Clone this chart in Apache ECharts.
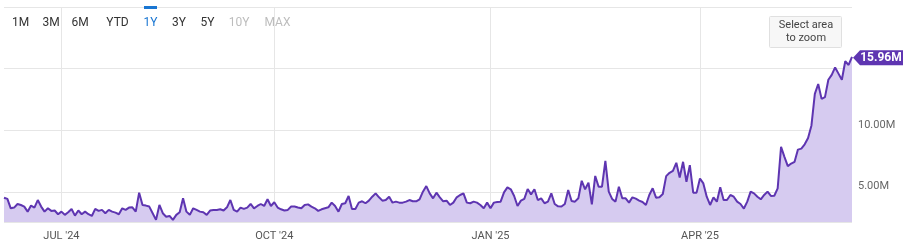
<!DOCTYPE html>
<html><head><meta charset="utf-8">
<script src="https://cdn.jsdelivr.net/npm/echarts@6/dist/echarts.min.js"></script>
<style>html,body{margin:0;padding:0;background:#fff}#c{width:912px;height:248px}</style>
</head><body><div id="c"></div>
<script>
// daily volume, millions (one value per trading day, Jun 2024 – Jun 2025)
const volumeM = [
4.54, 4.44, 3.68, 3.74, 4.03, 3.95, 3.82, 3.41, 3.9, 3.74,
4.35, 3.82, 3.41, 3.68, 3.47, 3.5, 3.2, 3.41, 3.15, 3.36,
3.63, 3.09, 3.5, 3.2, 3.41, 3.2, 3.06, 3.63, 3.47, 3.55,
3.28, 3.55, 3.41, 3.33, 3.2, 3.68, 3.55, 3.74, 3.76, 3.41,
4.95, 3.95, 3.9, 3.82, 3.28, 2.74, 3.95, 3.28, 3.0, 3.06,
2.74,
3.15, 3.36, 4.49, 3.41, 3.15, 3.68, 3.55, 3.41, 3.36, 3.15,
3.5, 3.55, 3.55, 3.6, 3.5, 3.76, 4.35, 3.55, 3.41, 3.74,
3.63, 3.74, 4.03, 3.68, 3.87, 4.03, 3.87, 4.41, 3.87, 4.17,
3.74, 3.6, 3.5, 3.55, 3.82, 3.82, 3.74, 3.68, 3.95, 4.0,
3.82, 3.68, 3.47, 3.6, 3.68, 3.76, 4.14, 3.87, 3.41, 4.03,
4.09, 4.68, 3.63, 3.63, 4.14, 4.25, 4.09, 4.3, 4.62, 4.89,
4.57, 4.3, 4.35, 4.62, 4.14, 4.22, 4.14, 4.14, 4.22, 4.35,
4.25, 4.25, 4.41, 5.03, 5.48, 4.89, 4.49, 4.95, 4.57, 4.25,
4.3, 3.95, 4.14, 4.57, 4.76, 4.89, 4.14, 4.09, 4.22, 4.14,
3.95, 3.68, 4.14, 3.68, 4.14, 4.19, 4.22, 4.97, 5.38, 5.22,
4.68, 3.87, 4.3, 4.44, 5.24, 4.81, 5.22, 4.35, 4.49, 4.09,
4.22, 4.89, 4.03, 3.84, 3.82, 4.03, 5.16, 4.27, 4.22, 4.49,
5.91, 5.22, 5.75, 4.0, 6.3, 5.43, 5.43, 7.53, 5.03, 4.44,
4.22, 5.43, 4.49, 4.49, 4.14, 4.57, 4.46, 4.3, 4.19, 3.95,
4.76, 5.3, 4.54, 4.57, 4.84, 6.29, 6.56, 6.72, 7.37, 6.18,
7.45, 5.83, 7.18, 4.95, 4.95, 6.1, 5.7, 4.62, 3.95, 4.57,
4.22, 5.38, 4.35, 4.35, 4.76, 4.62, 4.22, 4.03, 3.66, 4.22,
5.03, 4.89, 4.62, 4.41, 4.76, 5.03, 4.68, 4.7, 5.3, 8.66,
7.85, 7.1, 7.31, 7.45, 8.44, 8.52, 8.87, 9.38, 10.4, 12.96,
13.76, 12.55, 12.69, 14.1, 14.5, 15.1, 14.6, 14.1, 15.6, 15.3,
15.96
];
const tickIndex = [17, 80, 144, 206];
const tickLabels = ["JUL '24", "OCT '24", "JAN '25", "APR '25"];
const yLabelValues = [5, 10];
const lastLabel = "15.96M";
const rangeButtons = ["1M", "3M", "6M", "YTD", "1Y", "3Y", "5Y", "10Y", "MAX"];
const rangeState = ["on", "on", "on", "on", "sel", "on", "on", "off", "off"];
const categories = volumeM.map((_, i) => String(i));

const btnX = [20.5, 51, 80, 117.5, 150.5, 179, 207.5, 239, 277.5];
const stateColor = {on: '#333333', sel: '#1976d2', off: '#bdbdbd'};
const graphics = rangeButtons.map((t, i) => ({
  type: 'text', x: btnX[i], y: 23, z: 10,
  style: {text: t, align: 'center', verticalAlign: 'middle',
    font: '12px Roboto', fill: stateColor[rangeState[i]]}
}));
graphics.push({type: 'rect', z: 10, shape: {x: 144, y: 6, width: 13, height: 3},
  style: {fill: '#1976d2'}});
graphics.push({type: 'rect', z: 10, shape: {x: 769.5, y: 16.5, width: 72, height: 31, r: 1},
  style: {fill: '#f7f7f7', stroke: '#e0e0e0', lineWidth: 1}});
graphics.push({type: 'text', z: 11, x: 806, y: 32,
  style: {text: 'Select area\nto zoom', align: 'center', verticalAlign: 'middle',
    font: '11px Roboto', fill: '#444', lineHeight: 13}});

const chart = echarts.init(document.getElementById('c'), null, {renderer: 'canvas'});
const isTick = (i) => tickIndex.indexOf(i) >= 0;
chart.setOption({
  animation: false,
  grid: {left: 4, right: 60, top: 7, bottom: 26},
  graphic: graphics,
  xAxis: {
    type: 'category', data: categories, boundaryGap: false,
    axisLine: {show: false}, axisTick: {show: false},
    axisLabel: {
      interval: (i) => isTick(i),
      formatter: (v) => tickLabels[tickIndex.indexOf(Number(v))] || '',
      color: '#555', fontSize: 11, fontFamily: 'Roboto', margin: 9
    },
    splitLine: {show: true, interval: (i) => isTick(i), lineStyle: {color: '#e6e6e6', width: 1}}
  },
  yAxis: {
    type: 'value', position: 'right', min: 2.57, max: 20, splitNumber: 4,
    axisLine: {show: false}, axisTick: {show: false},
    axisLabel: {
      formatter: (v) => yLabelValues.indexOf(v) >= 0 ? v.toFixed(2) + 'M' : '',
      color: '#666', fontSize: 11, fontFamily: 'Roboto', margin: 6, verticalAlign: 'bottom'
    },
    splitLine: {lineStyle: {color: '#e6e6e6', width: 1}}
  },
  series: [{
    type: 'line', data: volumeM, symbol: 'none', smooth: false,
    lineStyle: {color: '#5e35b1', width: 2},
    itemStyle: {color: '#5e35b1'},
    areaStyle: {color: '#d6cbf0', opacity: 1, origin: 'start'},
    markPoint: {
      symbol: 'path://M0,7 L7,0 L50,0 L50,14 L7,14 Z',
      symbolSize: [50, 15], symbolOffset: [26, 1], symbolKeepAspect: false,
      itemStyle: {color: '#5e35b1'},
      label: {show: true, position: 'inside', formatter: lastLabel, color: '#fff',
        fontWeight: 'bold', fontSize: 12, fontFamily: 'Roboto', offset: [3, 0]},
      data: [{coord: [String(volumeM.length - 1), volumeM[volumeM.length - 1]]}]
    }
  }]
});
</script></body></html>
